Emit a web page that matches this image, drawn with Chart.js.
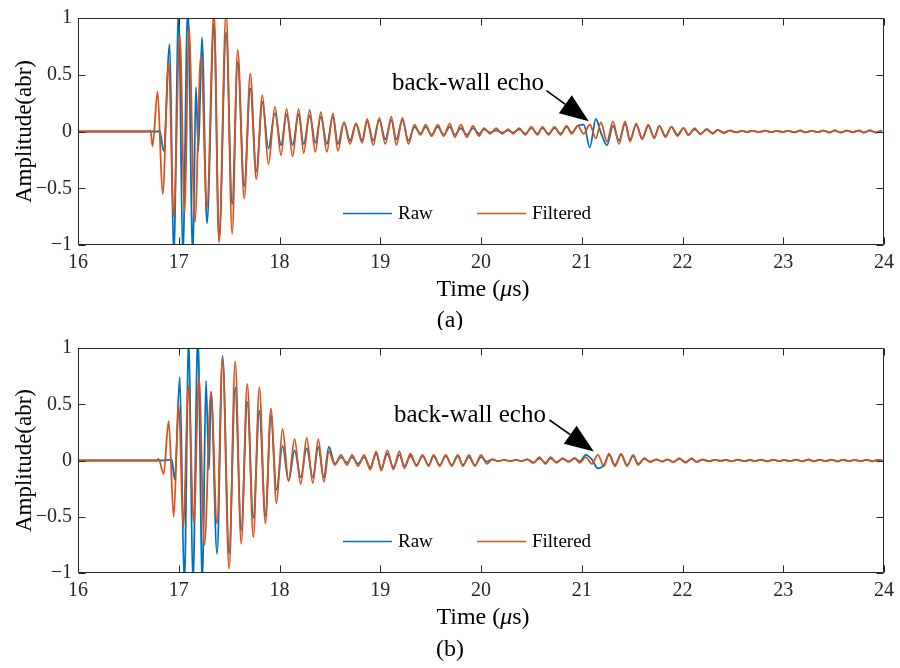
<!DOCTYPE html>
<html>
<head>
<meta charset="utf-8">
<script src="https://cdn.jsdelivr.net/npm/chart.js@4.4.0/dist/chart.umd.min.js"></script>
<style>
  body { margin: 0; background: #fff; width: 900px; height: 668px; overflow: hidden; }
  .plot { position: absolute; left: 0; width: 900px; }
</style>
</head>
<body>
<div class="plot" style="top:0;height:330px"><canvas id="plotA"></canvas></div>
<div class="plot" style="top:330px;height:338px"><canvas id="plotB"></canvas></div>
<script>
// Axis ticks
const xTicks = [16, 17, 18, 19, 20, 21, 22, 23, 24];
const yTicks = [-1, -0.5, 0, 0.5, 1];

// ---------- (a) : peaks / troughs ----------
// first arrivals (raw and filtered have their own timing here)
const burstTimeRawA = [16.00, 16.80, 16.81, 16.85, 16.91, 16.95, 17.00, 17.04, 17.09, 17.14, 17.17, 17.195, 17.23, 17.28, 17.35, 17.40, 17.47, 17.53, 17.585, 17.65, 17.71, 17.77, 17.83, 17.89, 17.955, 18.015, 18.07, 18.13, 18.19, 18.24, 18.30, 18.355];
const burstRawA = [0, 0, 0.01, -0.17, 0.77, -1.1, 1.1, -1.1, 1.1, -1.1, 0.39, -0.17, 0.83, -0.81, 0.95, -0.95, 0.87, -0.64, 0.61, -0.48, 0.38, -0.35, 0.26, -0.15, 0.16, -0.12, 0.15, -0.12, 0.15, -0.11, 0.14, -0.10];
const burstTimeFiltA = [16.00, 16.70, 16.72, 16.74, 16.79, 16.84, 16.90, 16.95, 17.01, 17.06, 17.10, 17.16, 17.22, 17.28, 17.35, 17.40, 17.47, 17.53, 17.585, 17.65, 17.71, 17.77, 17.83, 17.89, 17.955, 18.015, 18.07, 18.13, 18.19, 18.24, 18.30, 18.355];
const burstFiltA = [0, 0, 0.01, -0.13, 0.35, -0.55, 0.61, -0.75, 0.85, -0.72, 0.93, -0.80, 0.67, -0.67, 1.05, -0.98, 1.05, -0.90, 0.72, -0.59, 0.51, -0.42, 0.32, -0.29, 0.22, -0.21, 0.20, -0.22, 0.20, -0.19, 0.19, -0.18];

// ringing + back-wall echo (shared time grid)
const tailTimeA = [18.41, 18.47, 18.53, 18.58, 18.64, 18.70, 18.76, 18.82, 18.87, 18.93,
  18.99, 19.05, 19.11, 19.16, 19.22, 19.28, 19.34, 19.40, 19.45, 19.51,
  19.57, 19.63, 19.69, 19.74, 19.80, 19.86, 19.92, 19.98, 20.03, 20.09,
  20.15, 20.21, 20.27, 20.32, 20.38, 20.44, 20.50, 20.56, 20.61, 20.67,
  20.73, 20.79, 20.85, 20.90, 20.96, 21.02, 21.08, 21.14, 21.19, 21.25,
  21.31, 21.37, 21.43, 21.48, 21.54, 21.60, 21.66, 21.72, 21.77, 21.83,
  21.89, 21.95, 22.01, 22.06, 22.12, 22.18, 22.24, 22.30, 22.35, 22.41,
  22.47, 22.53, 22.59, 22.64, 22.70, 22.76, 22.82, 22.88, 22.93, 22.99,
  23.05, 23.11, 23.17, 23.22, 23.28, 23.34, 23.40, 23.46, 23.51, 23.57,
  23.63, 23.69, 23.75, 23.80, 23.86, 23.92, 23.98];
const tailRawA = [0.13, -0.11, 0.13, -0.11, 0.08, -0.08, 0.07, -0.08, 0.09, -0.08,
  0.10, -0.07, 0.10, -0.07, 0.10, -0.08, 0.04, -0.02, 0.04, -0.03,
  0.04, -0.03, 0.04, -0.03, 0.03, -0.03, 0.03, -0.02, 0.02, -0.01,
  0.01, -0.01, 0.01, -0.01, 0.02, -0.02, 0.03, -0.02, 0.03, -0.02,
  0.03, -0.02, 0.04, -0.01, 0.05, 0.06, -0.14, 0.11, -0.01, -0.12,
  0.05, -0.08, 0.07, -0.07, 0.06, -0.06, 0.05, -0.05, 0.05, -0.04,
  0.04, -0.03, 0.03, -0.03, 0.02, -0.02, 0.02, -0.015, 0.015, -0.01,
  0.008, -0.006, 0.005, -0.004, 0.005, -0.005, 0.007, -0.006, 0.005, -0.004,
  0.006, -0.007, 0.008, -0.007, 0.006, -0.005, 0.007, -0.008, 0.009, -0.008,
  0.007, -0.006, 0.008, -0.009, 0.009, -0.008, 0.007];
const tailFiltA = [0.17, -0.18, 0.16, -0.17, 0.08, -0.11, 0.07, -0.10, 0.11, -0.12,
  0.12, -0.11, 0.13, -0.12, 0.12, -0.11, 0.06, -0.03, 0.06, -0.04,
  0.06, -0.04, 0.07, -0.05, 0.06, -0.05, 0.05, -0.04, 0.03, -0.02,
  0.03, -0.02, 0.02, -0.02, 0.03, -0.03, 0.04, -0.03, 0.04, -0.03,
  0.04, -0.03, 0.05, -0.02, 0.05, -0.02, 0.06, -0.06, 0.08, -0.09,
  0.09, -0.11, 0.09, -0.09, 0.07, -0.07, 0.06, -0.06, 0.05, -0.05,
  0.04, -0.04, 0.03, -0.03, 0.03, -0.025, 0.02, -0.02, 0.015, -0.015,
  0.01, -0.008, 0.006, -0.004, 0.005, -0.006, 0.008, -0.007, 0.006, -0.005,
  0.007, -0.008, 0.009, -0.008, 0.007, -0.006, 0.008, -0.009, 0.01, -0.009,
  0.008, -0.007, 0.009, -0.01, 0.01, -0.009, 0.008];

// ---------- (b) ----------
const burstTimeRawB = [16.00, 16.80, 16.90, 16.93, 16.96, 17.01, 17.055, 17.10, 17.14, 17.19, 17.235, 17.27, 17.30, 17.32, 17.38, 17.435, 17.50, 17.56, 17.62, 17.68, 17.74, 17.80, 17.86, 17.915, 17.97, 18.03, 18.09, 18.15, 18.21, 18.27, 18.33, 18.385];
const burstRawB = [0, 0, 0.005, 0.01, -0.17, 0.74, -1.1, 1.1, -1.1, 1.1, -1.1, 0.71, -0.08, 0.61, -0.83, 0.93, -0.83, 0.65, -0.62, 0.52, -0.51, 0.44, -0.49, 0.40, -0.26, 0.13, -0.18, 0.09, -0.15, 0.11, -0.15, 0.12];
const burstTimeFiltB = [16.00, 16.78, 16.80, 16.85, 16.90, 16.95, 17.00, 17.045, 17.095, 17.15, 17.20, 17.255, 17.32, 17.38, 17.435, 17.50, 17.56, 17.62, 17.68, 17.74, 17.80, 17.86, 17.915, 17.97, 18.03, 18.09, 18.15, 18.21, 18.27, 18.33, 18.385];
const burstFiltB = [0, 0, 0.015, -0.12, 0.35, -0.50, 0.50, -0.59, 0.66, -0.55, 0.74, -0.75, 0.61, -0.56, 0.91, -0.96, 0.88, -0.74, 0.68, -0.68, 0.65, -0.56, 0.46, -0.38, 0.28, -0.18, 0.19, -0.21, 0.20, -0.20, 0.19];

const tailTimeB = [18.44, 18.49, 18.55, 18.61, 18.67, 18.72, 18.78, 18.84, 18.90, 18.96,
  19.01, 19.07, 19.13, 19.19, 19.24, 19.30, 19.36, 19.42, 19.48, 19.53,
  19.59, 19.65, 19.71, 19.77, 19.82, 19.88, 19.94, 20.00, 20.06, 20.11,
  20.17, 20.23, 20.29, 20.35, 20.40, 20.46, 20.52, 20.58, 20.64, 20.69,
  20.75, 20.81, 20.87, 20.93, 20.98, 21.04, 21.10, 21.16, 21.22, 21.27,
  21.33, 21.39, 21.45, 21.51, 21.56, 21.62, 21.68, 21.74, 21.80, 21.85,
  21.91, 21.97, 22.03, 22.09, 22.14, 22.20, 22.26, 22.32, 22.38, 22.43,
  22.49, 22.55, 22.61, 22.67, 22.72, 22.78, 22.84, 22.90, 22.96, 23.01,
  23.07, 23.13, 23.19, 23.25, 23.30, 23.36, 23.42, 23.48, 23.54, 23.59,
  23.65, 23.71, 23.77, 23.83, 23.88, 23.94, 24.00];
const tailRawB = [-0.15, 0.12, -0.03, 0.03, -0.02, 0.03, -0.03, 0.03, -0.06, 0.06,
  -0.07, 0.06, -0.06, 0.05, -0.05, 0.04, -0.04, 0.04, -0.04, 0.04,
  -0.04, 0.04, -0.04, 0.04, -0.04, 0.03, -0.04, 0.03, -0.01, 0.01,
  -0.005, 0.005, -0.005, 0.005, -0.005, 0.01, -0.02, 0.02, -0.02, 0.02,
  -0.015, 0.015, -0.01, 0.02, -0.01, 0.05, 0.01, -0.07, -0.04, 0.05,
  -0.04, 0.05, -0.04, 0.04, -0.03, 0.015, -0.01, 0.008, -0.008, 0.008,
  -0.012, 0.015, -0.015, 0.015, -0.01, 0.008, -0.006, 0.005, -0.004, 0.005,
  -0.006, 0.006, -0.005, 0.004, -0.005, 0.006, -0.006, 0.005, -0.005, 0.004,
  -0.005, 0.006, -0.006, 0.007, -0.006, 0.005, -0.005, 0.006, -0.007, 0.006,
  -0.005, 0.005, -0.006, 0.006, -0.005, 0.005, -0.004];
const tailFiltB = [-0.19, 0.08, -0.04, 0.05, -0.04, 0.05, -0.05, 0.05, -0.08, 0.08,
  -0.09, 0.09, -0.08, 0.08, -0.07, 0.06, -0.05, 0.05, -0.05, 0.05,
  -0.05, 0.05, -0.05, 0.05, -0.05, 0.05, -0.05, 0.05, -0.03, 0.01,
  -0.005, 0.005, -0.005, 0.005, -0.005, 0.01, -0.02, 0.03, -0.03, 0.03,
  -0.02, 0.02, -0.01, 0.02, -0.02, 0.03, -0.03, 0.05, -0.05, 0.06,
  -0.05, 0.06, -0.05, 0.05, -0.04, 0.02, -0.015, 0.01, -0.01, 0.01,
  -0.015, 0.02, -0.02, 0.02, -0.015, 0.01, -0.008, 0.006, -0.005, 0.006,
  -0.007, 0.008, -0.006, 0.005, -0.006, 0.007, -0.008, 0.007, -0.006, 0.005,
  -0.006, 0.007, -0.008, 0.009, -0.008, 0.007, -0.006, 0.008, -0.009, 0.008,
  -0.007, 0.006, -0.007, 0.008, -0.007, 0.006, -0.005];

const COLOR_RAW = '#0072BD';
const COLOR_FILT = '#D95319';
const SERIF = '"Liberation Serif", "Times New Roman", serif';

function pairs(t, v) {
  return t.map((x, i) => ({ x: x, y: v[i] }));
}

function fmtTick(v) {
  if (v === 0) return '0';
  return (v < 0 ? '\u2212' : '') + Math.abs(v);
}

// box, inward ticks, legend, axis titles and the arrow note (MATLAB look)
const decorations = {
  id: 'decorations',
  afterDraw(chart, args, opts) {
    const ctx = chart.ctx;
    const a = chart.chartArea;
    const xs = chart.scales.x, ys = chart.scales.y;
    const L = Math.round(a.left) + 0.5, R = Math.round(a.right) - 0.5;
    const T = Math.round(a.top) + 0.5, B = Math.round(a.bottom) - 0.5;
    ctx.save();
    ctx.strokeStyle = '#262626';
    ctx.lineWidth = 1;
    ctx.beginPath();
    ctx.moveTo(L, T); ctx.lineTo(R, T); ctx.lineTo(R, B); ctx.lineTo(L, B); ctx.closePath();
    xTicks.forEach(v => {
      const px = Math.round(xs.getPixelForValue(v)) + 0.5;
      ctx.moveTo(px, B); ctx.lineTo(px, B - 7);
      ctx.moveTo(px, T); ctx.lineTo(px, T + 7);
    });
    yTicks.forEach(v => {
      const py = Math.round(ys.getPixelForValue(v)) + 0.5;
      ctx.moveTo(L, py); ctx.lineTo(L + 7, py);
      ctx.moveTo(R, py); ctx.lineTo(R - 7, py);
    });
    ctx.stroke();

    // legend inside the axes
    const ly = Math.round(ys.getPixelForValue(-0.715)) + 0.5;
    const raw = chart.data.datasets.find(d => d.label === 'Raw');
    const filt = chart.data.datasets.find(d => d.label === 'Filtered');
    ctx.font = '19px ' + SERIF;
    ctx.textBaseline = 'middle';
    ctx.textAlign = 'left';
    [[raw, a.left + 265], [filt, a.left + 399]].forEach(([ds, x0]) => {
      ctx.strokeStyle = ds.borderColor;
      ctx.lineWidth = 1.5;
      ctx.beginPath(); ctx.moveTo(x0, ly); ctx.lineTo(x0 + 49, ly); ctx.stroke();
      ctx.fillStyle = '#000';
      ctx.fillText(ds.label, x0 + 55, ly + 1);
    });

    // y title
    ctx.fillStyle = '#000';
    ctx.font = '23px ' + SERIF;
    ctx.save();
    ctx.translate(25, (a.top + a.bottom) / 2);
    ctx.rotate(-Math.PI / 2);
    ctx.textAlign = 'center';
    ctx.textBaseline = 'middle';
    ctx.fillText('Amplitude(abr)', 0, 0);
    ctx.restore();

    // x title with italic mu
    const parts = [['Time (', ''], ['\u03bc', 'italic '], ['s)', '']];
    let w = 0;
    parts.forEach(p => { ctx.font = p[1] + '24px ' + SERIF; w += ctx.measureText(p[0]).width; });
    let x = (a.left + a.right) / 2 - w / 2 + 2;
    ctx.textAlign = 'left';
    ctx.textBaseline = 'middle';
    parts.forEach(p => {
      ctx.font = p[1] + '24px ' + SERIF;
      ctx.fillText(p[0], x, opts.titleY);
      x += ctx.measureText(p[0]).width;
    });

    // panel tag
    ctx.font = '24px ' + SERIF;
    ctx.textAlign = 'center';
    ctx.fillText(opts.tag, opts.tagX, opts.tagY);

    // back-wall echo note
    const n = opts.note;
    const tx = xs.getPixelForValue(n.textX), ty = ys.getPixelForValue(n.textY);
    ctx.font = '25px ' + SERIF;
    ctx.textAlign = 'center';
    ctx.textBaseline = 'alphabetic';
    ctx.fillText(n.text, tx, ty);
    const x1 = xs.getPixelForValue(n.fromX), y1 = ys.getPixelForValue(n.fromY);
    const x2 = xs.getPixelForValue(n.toX), y2 = ys.getPixelForValue(n.toY);
    const ang = Math.atan2(y2 - y1, x2 - x1);
    const hl = 29, hw = 11;
    const bx = x2 - hl * Math.cos(ang), by = y2 - hl * Math.sin(ang);
    ctx.strokeStyle = '#000';
    ctx.lineWidth = 1.6;
    ctx.beginPath(); ctx.moveTo(x1, y1); ctx.lineTo(bx, by); ctx.stroke();
    ctx.beginPath();
    ctx.moveTo(x2, y2);
    ctx.lineTo(bx + hw * Math.sin(ang), by - hw * Math.cos(ang));
    ctx.lineTo(bx - hw * Math.sin(ang), by + hw * Math.cos(ang));
    ctx.closePath();
    ctx.fillStyle = '#000';
    ctx.fill();
    ctx.restore();
  }
};

function makePlot(id, rawT, rawV, filtT, filtV, xAxisHeight, deco) {
  const line = (label, data, color) => ({
    label: label,
    data: data,
    borderColor: color,
    backgroundColor: color,
    borderWidth: 1.8,
    pointRadius: 0,
    fill: false,
    cubicInterpolationMode: 'monotone'
  });
  return new Chart(document.getElementById(id), {
    type: 'line',
    data: {
      datasets: [
        line('Filtered', pairs(filtT, filtV), COLOR_FILT),
        line('Raw', pairs(rawT, rawV), COLOR_RAW)
      ]
    },
    options: {
      responsive: true,
      maintainAspectRatio: false,
      animation: false,
      layout: { padding: { top: 15, right: 16, left: 0, bottom: 0 } },
      plugins: {
        legend: { display: false },
        tooltip: { enabled: false },
        decorations: deco
      },
      scales: {
        x: {
          type: 'linear',
          min: 16, max: 24,
          afterBuildTicks: s => { s.ticks = xTicks.map(v => ({ value: v })); },
          afterFit: s => { s.height = xAxisHeight; },
          ticks: { color: '#262626', padding: 6, maxRotation: 0, font: { family: SERIF, size: 20 } },
          grid: { display: false, drawTicks: false },
          border: { display: false }
        },
        y: {
          min: -1, max: 1,
          afterBuildTicks: s => { s.ticks = yTicks.map(v => ({ value: v })); },
          afterFit: s => { s.width = 78; },
          ticks: { color: '#262626', padding: 6, callback: fmtTick, font: { family: SERIF, size: 20 } },
          grid: { display: false, drawTicks: false },
          border: { display: false }
        }
      }
    },
    plugins: [decorations]
  });
}

makePlot('plotA',
  burstTimeRawA.concat(tailTimeA), burstRawA.concat(tailRawA),
  burstTimeFiltA.concat(tailTimeA), burstFiltA.concat(tailFiltA),
  85,
  { titleY: 290, tag: '(a)', tagX: 450, tagY: 321,
    note: { text: 'back-wall echo', textX: 19.87, textY: 0.37, fromX: 20.65, fromY: 0.36, toX: 21.07, toY: 0.09 } });

makePlot('plotB',
  burstTimeRawB.concat(tailTimeB), burstRawB.concat(tailRawB),
  burstTimeFiltB.concat(tailTimeB), burstFiltB.concat(tailFiltB),
  95,
  { titleY: 288, tag: '(b)', tagX: 450, tagY: 320,
    note: { text: 'back-wall echo', textX: 19.89, textY: 0.34, fromX: 20.68, fromY: 0.36, toX: 21.12, toY: 0.08 } });
</script>
</body>
</html>
